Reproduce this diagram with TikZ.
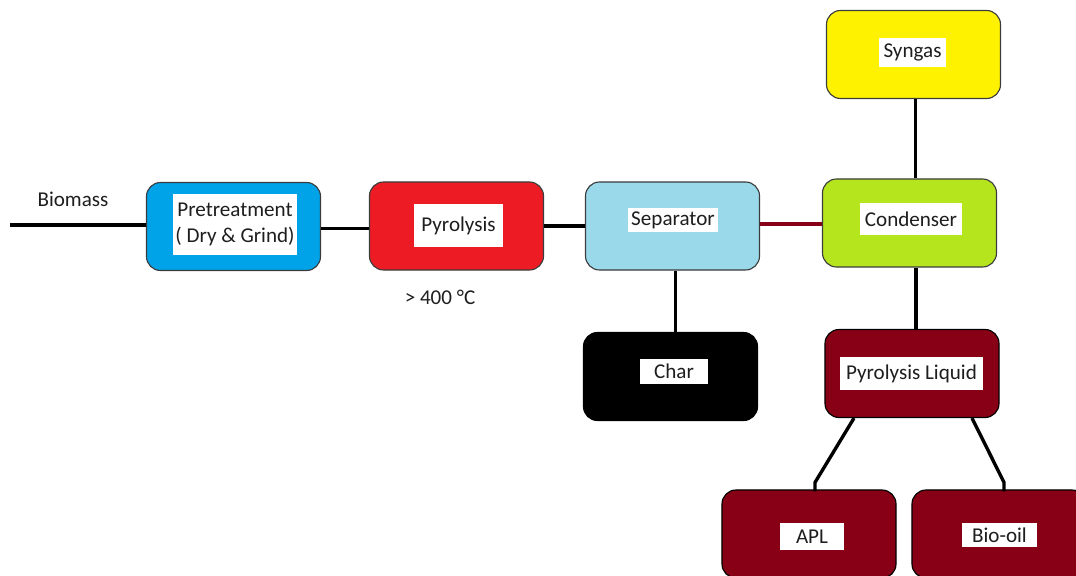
\documentclass[tikz,border=0pt]{standalone}
\usepackage{fontspec}
\setmainfont{Carlito}
\usetikzlibrary{calc}
\definecolor{pblue}{HTML}{00A2E8}
\definecolor{pred}{HTML}{ED1C24}
\definecolor{plight}{HTML}{99D9EA}
\definecolor{plime}{HTML}{B5E61D}
\definecolor{pyellow}{HTML}{FFF200}
\definecolor{pmaroon}{HTML}{880015}
\definecolor{pedge}{HTML}{3C3C3C}
\definecolor{ptext}{HTML}{1E1E1E}
\tikzset{
  every picture/.style={font=\fontsize{15}{18}\selectfont, x=0.025cm, y=-0.025cm},
  unit/.style={draw=pedge, fill=#1, rounded corners=10pt, line width=0.8pt, minimum width=4.35cm, minimum height=2.2cm, inner sep=0pt},
  unit/.default=white,
  tag/.style={fill=white, inner sep=0pt, align=center, text=ptext},
  link/.style={draw=black, line width=2.4pt},
  note/.style={text=ptext, inner sep=0pt},
}

\begin{document}
\begin{tikzpicture}
  \useasboundingbox (0,0) rectangle (1076,576);
  % process units
  \node[unit=pblue] (pre) at (233.5,226.5) {};
  \node[unit=pred] (pyro) at (456.5,226) {};
  \node[unit=plight] (sep) at (672.5,226) {};
  \node[unit=plime] (cond) at (909.5,223) {};
  \node[unit=pyellow] (syn) at (913.5,54.5) {};
  \node[unit=black, draw=black] (char) at (670.5,376.5) {};
  \node[unit=pmaroon, draw=black] (liq) at (912,373.5) {};
  \node[unit=pmaroon, draw=black] (apl) at (809,534) {};
  \node[unit=pmaroon, draw=black] (oil) at (999,534) {};
  % labels
  \node[tag, minimum width=3.1cm, minimum height=1.52cm] (pre-t) at (235,224.5) {Pretreatment\\( Dry \& Grind)};
  \node[tag, minimum width=2.22cm, minimum height=1.07cm] (pyro-t) at (458.5,225.5) {Pyrolysis};
  \node[tag, minimum width=2.25cm, minimum height=0.6cm] (sep-t) at (673,220) {Separator};
  \node[tag, minimum width=2.55cm, minimum height=0.8cm] (cond-t) at (911,219) {Condenser};
  \node[tag, minimum width=1.67cm, minimum height=0.72cm] (syn-t) at (912.5,52.5) {Syngas};
  \node[tag, minimum width=1.7cm, minimum height=0.62cm] (char-t) at (674,371.5) {Char};
  \node[tag, minimum width=3.57cm, minimum height=0.82cm] (liq-t) at (911.5,373.5) {Pyrolysis Liquid};
  \node[tag, minimum width=1.6cm, minimum height=0.67cm] (apl-t) at (812,536.5) {APL};
  \node[tag, minimum width=1.87cm, minimum height=0.6cm] (oil-t) at (999.5,535) {Bio-oil};
  \node[note] (feed-t) at (73,199) {Biomass};
  \node[note] (temp-t) at (440,297) {> 400 °C};
  % connections
  \coordinate (feed) at (10,225);
  \draw[link] (feed) -- (feed -| pre.west);
  \draw[link] ($(pre.east)+(0,2)$) coordinate (p1) -- (p1 -| pyro.west);
  \draw[link] (pyro.east) -- (sep.west);
  \draw[link, draw=pmaroon] ($(sep.east)+(0,-2)$) coordinate (p2) -- (p2 -| cond.west);
  \draw[link] ($(sep.south)+(3,0)$) coordinate (p3) -- (p3 |- char.north);
  \draw[link] ($(syn.south)+(2,0)$) coordinate (s1) -- (s1 |- cond.north);
  \draw[link] ($(liq.north)+(4,0)$) coordinate (l1) -- (l1 |- cond.south);
  \draw[link] ($(liq.south)+(-58,0)$) -- ($(apl.north)+(6,-7)$) -- ($(apl.north)+(6,2)$);
  \draw[link] ($(liq.south)+(60,0)$) -- ($(oil.north)+(5,-7)$) -- ($(oil.north)+(5,2)$);
\end{tikzpicture}
\end{document}
